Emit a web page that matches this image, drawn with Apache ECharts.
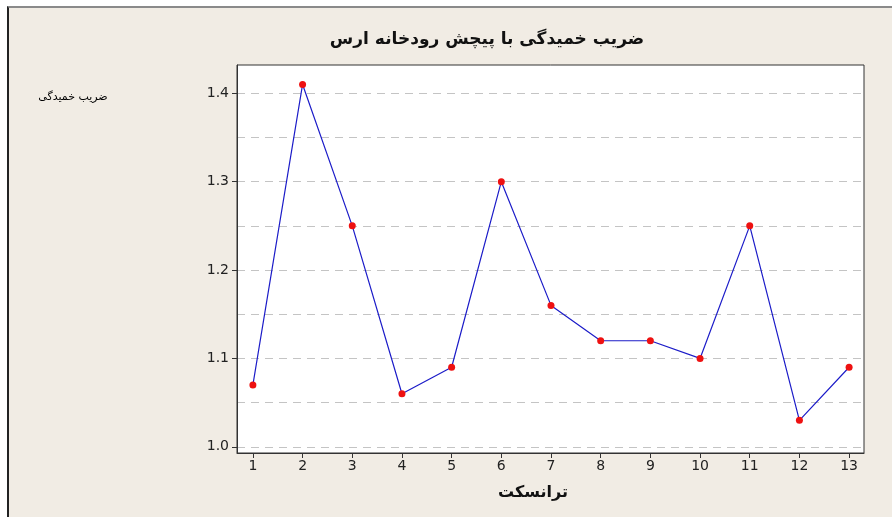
<!DOCTYPE html>
<html><head><meta charset="utf-8">
<script src="https://cdn.jsdelivr.net/npm/echarts@6/dist/echarts.min.js"></script>
<style>
html,body{margin:0;padding:0;background:#fff;}
#frame{position:absolute;left:7px;top:6px;width:885px;height:511px;border-left:2px solid #222;border-top:2px solid #8a8a8a;background:#f1ece4;}
#c{width:885px;height:511px;}
</style></head>
<body><div id="frame"><div id="c"></div></div>
<script>
const transects = [1,2,3,4,5,6,7,8,9,10,11,12,13];
const sinuosity = [1.07,1.41,1.25,1.06,1.09,1.30,1.16,1.12,1.12,1.10,1.25,1.03,1.09];
const yLabelTicks = [1.0,1.1,1.2,1.3,1.4];
const yGridTicks = [1.0,1.05,1.1,1.15,1.2,1.25,1.3,1.35,1.4];
const titleText = 'ضریب خمیدگی با پیچش رودخانه ارس';
const yName = 'ضریب خمیدگی';
const xName = 'ترانسکت';

const chart = echarts.init(document.getElementById('c'), null, {renderer:'canvas'});
const font = 'DejaVu Sans, Tahoma, sans-serif';
const ox = 9, oy = 8;
chart.setOption({
  backgroundColor:'#f1ece4',
  animation:false,
  graphic:[
    {type:'text',x:487-ox,y:40-oy,style:{text:titleText,font:'bold 17px '+font,fill:'#111',align:'center',verticalAlign:'middle'}},
    {type:'text',x:73-ox,y:97-oy,style:{text:yName,font:'11px '+font,fill:'#000',align:'center',verticalAlign:'middle'}},
    {type:'text',x:533-ox,y:493-oy,style:{text:xName,font:'bold 16px '+font,fill:'#111',align:'center',verticalAlign:'middle'}}
  ],
  grid:{left:237-ox,top:65-oy,right:892-862,bottom:517-451,containLabel:false,show:true,
    backgroundColor:'#fff',borderColor:'#333',borderWidth:1},
  xAxis:{type:'value',min:0.68,max:13.3,
    axisLine:{show:true,onZero:false,lineStyle:{color:'#333'}},
    axisTick:{show:true,length:5,customValues:transects,lineStyle:{color:'#333'}},
    axisLabel:{customValues:transects,color:'#222',fontFamily:font,fontSize:14,margin:6},
    splitLine:{show:false}},
  yAxis:[{type:'value',min:0.993,max:1.432,
    axisLine:{show:true,lineStyle:{color:'#333'}},
    axisTick:{show:true,length:5,customValues:yLabelTicks,lineStyle:{color:'#333'}},
    axisLabel:{customValues:yLabelTicks,color:'#222',fontFamily:font,fontSize:14,margin:8,
      formatter:v=>v.toFixed(1)},
    splitLine:{show:false}},
   {type:'value',min:0.993,max:1.432,position:'left',
    axisLine:{show:false},axisTick:{show:false,customValues:yGridTicks},
    axisLabel:{show:false,customValues:yGridTicks},
    splitLine:{show:true,lineStyle:{color:'#c4c4c4',type:[8,6],width:1}}}],
  series:[{type:'line',data:transects.map((t,i)=>[t,sinuosity[i]]),
    symbol:'circle',symbolSize:7,
    lineStyle:{color:'#1c1cc8',width:1.2},
    itemStyle:{color:'#ee1111',borderWidth:0},z:5}]
});
</script></body></html>
